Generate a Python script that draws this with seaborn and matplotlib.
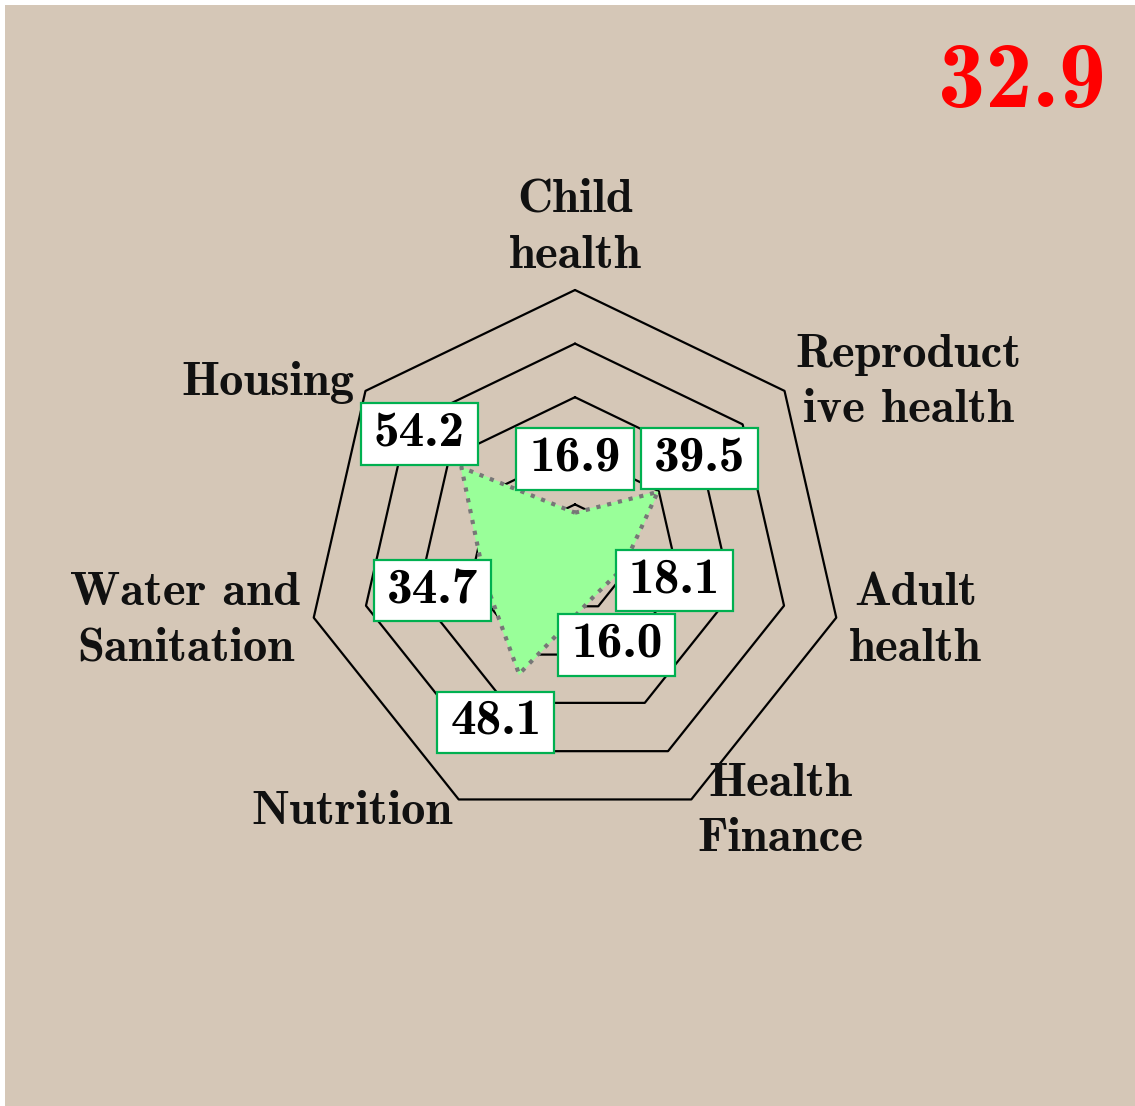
import numpy as np
import matplotlib
matplotlib.use("Agg")
import matplotlib.pyplot as plt
import seaborn as sns
from matplotlib.patches import Rectangle

# radar data, clockwise starting at the top
categories = ["Child\nhealth", "Reproduct\nive health", "Adult\nhealth", "Health\nFinance",
              "Nutrition", "Water and\nSanitation", "Housing"]
values = [16.9, 39.5, 18.1, 16.0, 48.1, 34.7, 54.2]
ring_levels = [20, 40, 60, 80, 100]
overall_score = "32.9"

sns.set_theme(style="white")
plt.rcParams['font.family'] = ['cmb10', 'DejaVu Serif']

W, H, DPI = 1135, 1106, 100
fig = plt.figure(figsize=(W / DPI, H / DPI), dpi=DPI, facecolor="white")
# tan panel with a thin white margin top / left
fig.patches.append(Rectangle((5 / W, 0), 1 - 5 / W, 1 - 5 / H, transform=fig.transFigure,
                             facecolor="#d5c7b7", edgecolor="none", zorder=-5))

ax = fig.add_axes([0, 0, 1, 1])
ax.set_facecolor("none")
px = 2.68  # pixels per value unit
ax.set_xlim(-575 / px, (W - 575) / px)
ax.set_ylim(-(H - 558) / px, 558 / px)
ax.axis("off")

n = len(values)
theta = np.pi / 2 - np.arange(n) * 2 * np.pi / n
ct, st = np.cos(theta), np.sin(theta)
closed = np.append(np.arange(n), 0)

# heptagon grid rings
for lv in ring_levels:
    sns.lineplot(x=lv * ct[closed], y=lv * st[closed], sort=False, estimator=None,
                 color="black", linewidth=1.6, ax=ax, zorder=1)

vals = np.array(values)
ax.fill(vals[closed] * ct[closed], vals[closed] * st[closed], color="#99ff99", zorder=2)
sns.lineplot(x=vals[closed] * ct[closed], y=vals[closed] * st[closed], sort=False,
             estimator=None, color="#777777", linewidth=3.0, linestyle=":", ax=ax, zorder=3)

# value boxes just outside each point (wider padding left/right than top/bottom)
for v, c, s in zip(values, ct, st):
    ax.text((v + 20) * c, (v + 20) * s, f"{v:.1f}", ha="center", va="center",
            fontsize=37, color="black", zorder=5,
            bbox=dict(boxstyle="square,pad=0.25", mutation_aspect=0.64,
                      facecolor="white", edgecolor="#00b050", linewidth=1.6))

# category labels
for lab, c, s in zip(categories, ct, st):
    if abs(c) < 1e-6:
        ha, va = "center", "bottom"
    else:
        ha, va = ("left" if c > 0 else "right"), "center"
    ax.text(105 * c, 105 * s, lab, ha=ha, va=va, multialignment="center",
            linespacing=1.42, fontsize=35, color="#111111", zorder=4)

fig.text(1106 / W, 1 - 107 / H, overall_score, ha="right", va="baseline",
         fontsize=68, color="red")

fig.savefig("out.png", dpi=DPI, facecolor=fig.get_facecolor())
